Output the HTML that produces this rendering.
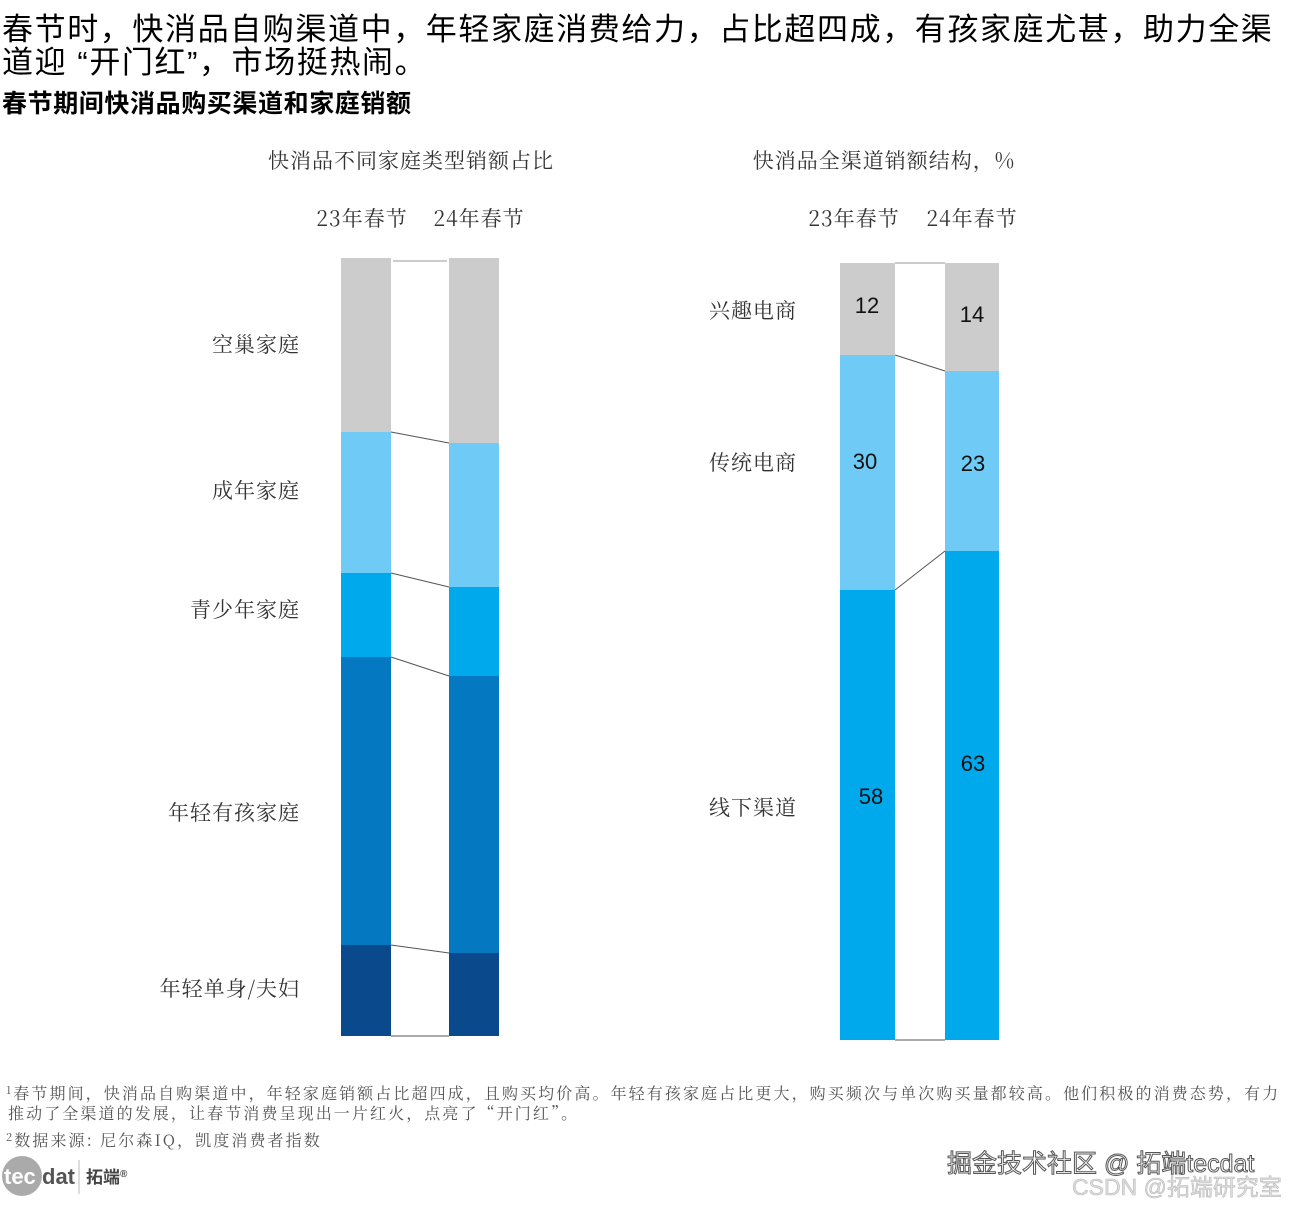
<!DOCTYPE html>
<html><head><meta charset="utf-8"><style>
body{margin:0;background:#fff;width:1290px;height:1208px;overflow:hidden;font-family:"Liberation Sans","Noto Sans CJK SC",sans-serif;}
</style></head><body>
<svg width="1290" height="1208" xmlns="http://www.w3.org/2000/svg" style="position:absolute;left:0;top:0">
<g font-family="Liberation Sans, Noto Sans CJK SC, sans-serif">
<text x="2" y="40" font-size="31" letter-spacing="1.6" fill="#000">春节时，快消品自购渠道中，年轻家庭消费给力，占比超四成，有孩家庭尤甚，助力全渠</text>
<text x="2" y="73" font-size="31" letter-spacing="1.6" fill="#000">道迎 “开门红”，市场挺热闹。</text>
<text x="2" y="112" font-size="25" font-weight="bold" letter-spacing="0.6" fill="#000">春节期间快消品购买渠道和家庭销额</text>

<g font-family="Noto Serif CJK SC, serif" font-size="21" fill="#333" letter-spacing="1">
<text x="411" y="168" text-anchor="middle">快消品不同家庭类型销额占比</text>
<text x="884" y="168" text-anchor="middle">快消品全渠道销额结构，%</text>
<text x="362" y="226" text-anchor="middle">23年春节</text>
<text x="479" y="226" text-anchor="middle">24年春节</text>
<text x="854" y="226" text-anchor="middle">23年春节</text>
<text x="972" y="226" text-anchor="middle">24年春节</text>
<g text-anchor="end">
<text x="300" y="352">空巢家庭</text>
<text x="300" y="498">成年家庭</text>
<text x="300" y="617">青少年家庭</text>
<text x="300" y="820">年轻有孩家庭</text>
<text x="300" y="996">年轻单身/夫妇</text>
</g>
<text x="709" y="318">兴趣电商</text>
<text x="709" y="470">传统电商</text>
<text x="709" y="815">线下渠道</text>
</g>

<rect x="341" y="258" width="50" height="174" fill="#cccccc"/>
<rect x="341" y="432" width="50" height="141" fill="#6fcaf5"/>
<rect x="341" y="573" width="50" height="84" fill="#00a8ec"/>
<rect x="341" y="657" width="50" height="288" fill="#0478c0"/>
<rect x="341" y="945" width="50" height="91" fill="#0a4a8c"/>
<rect x="449" y="258" width="50" height="185" fill="#cccccc"/>
<rect x="449" y="443" width="50" height="144" fill="#6fcaf5"/>
<rect x="449" y="587" width="50" height="89" fill="#00a8ec"/>
<rect x="449" y="676" width="50" height="277" fill="#0478c0"/>
<rect x="449" y="953" width="50" height="83" fill="#0a4a8c"/>
<g stroke="#555" stroke-width="1">
<line x1="393" y1="261" x2="447" y2="261" stroke="#999"/>
<line x1="391" y1="432" x2="449" y2="443"/>
<line x1="391" y1="573" x2="449" y2="587"/>
<line x1="391" y1="657" x2="449" y2="676"/>
<line x1="391" y1="945" x2="449" y2="953"/>
<line x1="391" y1="1036" x2="449" y2="1036"/>
</g>

<rect x="840" y="263" width="55" height="92" fill="#cccccc"/>
<rect x="840" y="355" width="55" height="235" fill="#6fcaf5"/>
<rect x="840" y="590" width="55" height="450" fill="#00a8ec"/>
<rect x="945" y="263" width="54" height="108" fill="#cccccc"/>
<rect x="945" y="371" width="54" height="180" fill="#6fcaf5"/>
<rect x="945" y="551" width="54" height="489" fill="#00a8ec"/>
<g stroke="#555" stroke-width="1">
<line x1="895" y1="263" x2="945" y2="263" stroke="#999"/>
<line x1="895" y1="355" x2="945" y2="371"/>
<line x1="895" y1="590" x2="945" y2="551"/>
<line x1="895" y1="1040" x2="945" y2="1040"/>
</g>
<g font-size="22" fill="#111" text-anchor="middle">
<text x="867" y="313">12</text>
<text x="972" y="322">14</text>
<text x="865" y="469">30</text>
<text x="973" y="471">23</text>
<text x="871" y="804">58</text>
<text x="973" y="771">63</text>
</g>

<g font-family="Noto Serif CJK SC, serif" font-size="16" fill="#555" letter-spacing="2.1">
<text x="6" y="1099"><tspan font-size="11" dy="-5">1</tspan><tspan dy="5">春节期间，快消品自购渠道中，年轻家庭销额占比超四成，且购买均价高。年轻有孩家庭占比更大，购买频次与单次购买量都较高。他们积极的消费态势，有力</tspan></text>
<text x="8" y="1119">推动了全渠道的发展，让春节消费呈现出一片红火，点亮了“开门红”。</text>
<text x="6" y="1146"><tspan font-size="11" dy="-5">2</tspan><tspan dy="5">数据来源: 尼尔森IQ，凯度消费者指数</tspan></text>
</g>
<circle cx="22" cy="1176" r="20" fill="#aaa"/>
<text x="4" y="1184" font-size="22" fill="#fff" font-weight="bold">tec</text>
<text x="42" y="1184" font-size="22" fill="#555" font-weight="bold">dat</text>
<line x1="79" y1="1160" x2="79" y2="1194" stroke="#bbb"/>
<text x="86" y="1183" font-size="17" fill="#444" font-weight="bold">拓端<tspan font-size="10" dy="-6">®</tspan></text>
<text x="947" y="1172" font-size="25" fill="#fff" stroke="#555" stroke-width="1">掘金技术社区 @ 拓端tecdat</text>
<text x="1072" y="1195" font-size="23" fill="#ddd" stroke="#bbb" stroke-width="0.6">CSDN @拓端研究室</text>
</g>
</svg>
</body></html>
